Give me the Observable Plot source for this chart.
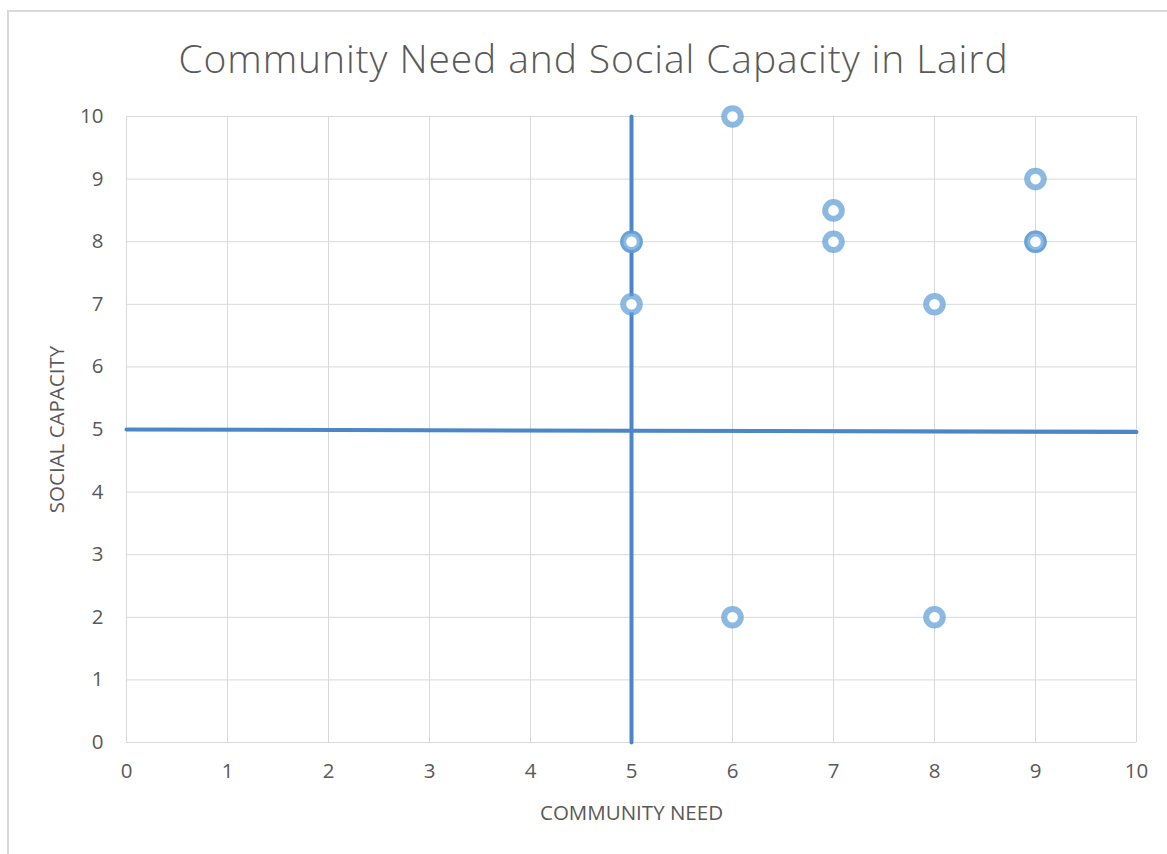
<!DOCTYPE html>
<html>
<head>
<meta charset="utf-8">
<script src="https://cdn.jsdelivr.net/npm/d3@7"></script>
<script src="https://cdn.jsdelivr.net/npm/@observablehq/plot@0.6"></script>
<style>
  html, body { margin: 0; padding: 0; background: #fff; }
  #wrap { position: relative; width: 1167px; height: 854px; overflow: hidden; }
  #border { position: absolute; left: 7px; top: 10px; width: 1200px; height: 900px;
            border-left: 2px solid #d9d9d9; border-top: 2px solid #d9d9d9; pointer-events: none; }
  #chart { position: absolute; left: 0; top: 0; }
</style>
</head>
<body>
<div id="wrap"><div id="chart"></div><div id="border"></div></div>
<script>
const title = "Community Need and Social Capacity in Laird";
const xLabel = "COMMUNITY NEED";
const yLabel = "SOCIAL CAPACITY";
const ticks = [0, 1, 2, 3, 4, 5, 6, 7, 8, 9, 10];

// scatter points: community need (x), social capacity (y)
const needValues     = [6, 9, 7,   5, 5, 7, 9, 9, 5, 8, 6, 8];
const capacityValues = [10, 9, 8.5, 8, 8, 8, 8, 8, 7, 7, 2, 2];

// quadrant divider lines
const vLineX = [5, 5];
const vLineY = [0, 10];
const hLineX = [0, 10];
const hLineY = [5, 4.96];

const points = needValues.map((x, i) => ({x, y: capacityValues[i]}));
const vLine = vLineX.map((x, i) => ({x, y: vLineY[i]}));
const hLine = hLineX.map((x, i) => ({x, y: hLineY[i]}));

const font = "Open Sans, Liberation Sans, sans-serif";

const plot = Plot.plot({
  width: 1167,
  height: 854,
  marginLeft: 126,
  marginRight: 31,
  marginTop: 116,
  marginBottom: 112,
  style: { fontFamily: font, background: "transparent", color: "#595959" },
  x: { domain: [0, 10], ticks: ticks, label: null },
  y: { domain: [0, 10], ticks: ticks, label: null },
  marks: [
    Plot.gridX(ticks, { stroke: "#d9d9d9", strokeOpacity: 1, strokeWidth: 1 }),
    Plot.gridY(ticks, { stroke: "#d9d9d9", strokeOpacity: 1, strokeWidth: 1 }),
    Plot.axisX({ ticks: ticks, tickSize: 0, tickPadding: 21, fontSize: 20.5, fill: "#595959", label: null }),
    Plot.axisY({ ticks: ticks, tickSize: 0, tickPadding: 23, fontSize: 20.5, fill: "#595959", label: null }),
    Plot.line(hLine, { x: "x", y: "y", stroke: "#4a86c8", strokeWidth: 4 }),
    Plot.line(vLine, { x: "x", y: "y", stroke: "#4a86c8", strokeWidth: 4 }),
    Plot.dot(points, { x: "x", y: "y", r: 8.3, fill: "white", fillOpacity: 1, stroke: "#5b9bd5", strokeOpacity: 0.7, strokeWidth: 6 }),
    Plot.text([title], { frameAnchor: "top", dy: -71, dx: -38, fontSize: 39, fill: "#595959", fontWeight: 300, text: d => d }),
    Plot.text([xLabel], { frameAnchor: "bottom", lineAnchor: "bottom", dy: 77, fontSize: 20.5, fill: "#595959", text: d => d }),
    Plot.text([yLabel], { frameAnchor: "left", textAnchor: "middle", lineAnchor: "middle", dx: -69, rotate: -90, fontSize: 20.5, fill: "#595959", text: d => d })
  ]
});
d3.select(plot).selectAll("text")
  .filter(function() { return this.textContent === title; })
  .attr("letter-spacing", "0.9px");
document.getElementById("chart").appendChild(plot);
</script>
</body>
</html>
